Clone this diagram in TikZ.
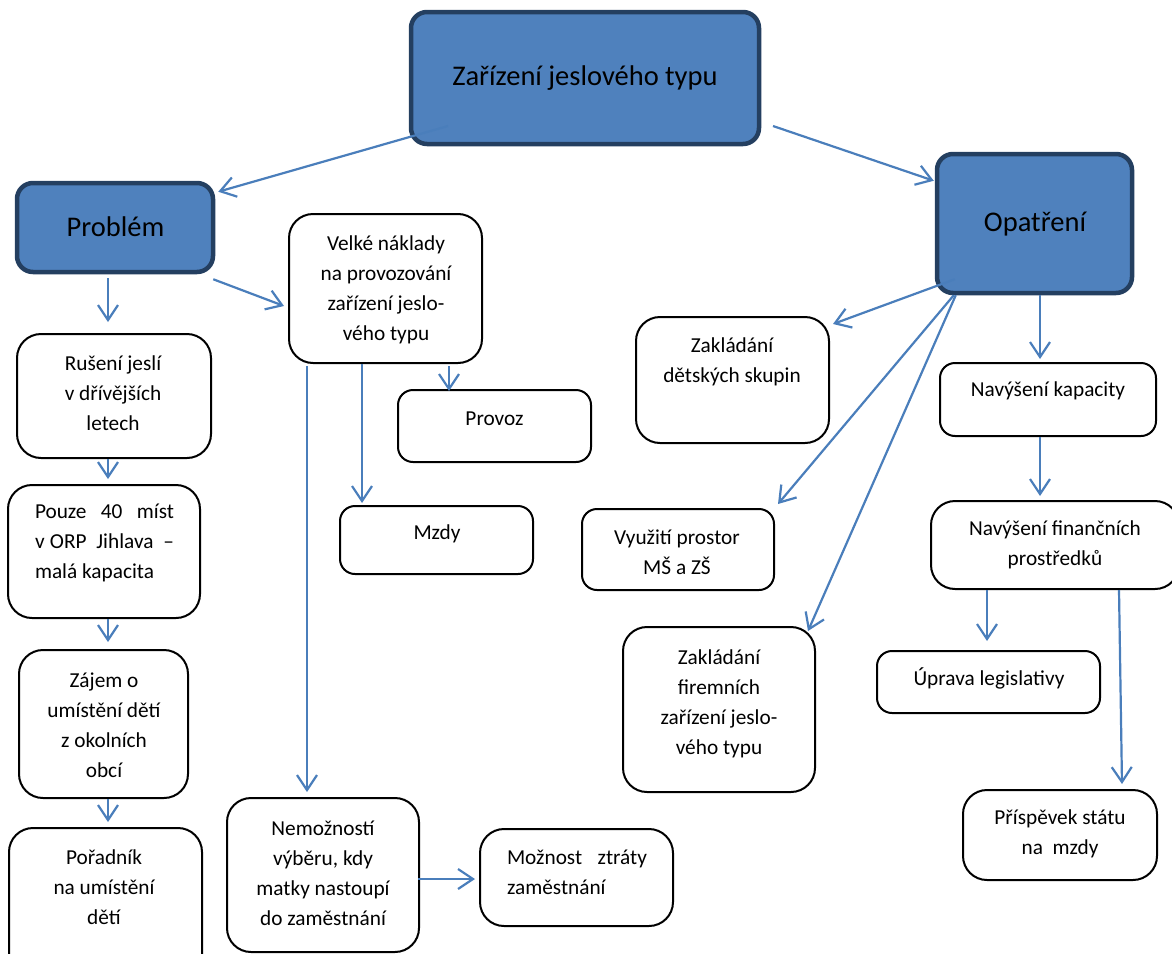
\documentclass[tikz,border=0pt]{standalone}
\usepackage{fontspec}
\setmainfont{Carlito}
\usetikzlibrary{arrows.meta, fit, calc}

\definecolor{fillblue}{HTML}{4F81BD}
\definecolor{edgeblue}{HTML}{243F60}
\definecolor{linkblue}{HTML}{4A7EBB}

\tikzset{
	head/.style={draw=edgeblue, line width=4.5pt, fill=fillblue, rounded corners=16pt, inner sep=0pt},
	box/.style={draw=black, line width=2pt, fill=white, rounded corners=24pt, inner sep=0pt},
	flat/.style={box, rounded corners=15pt},
	txt/.style={inner sep=0pt, align=center, font=\fontsize{21.3}{30}\selectfont},
	big/.style={inner sep=0pt, font=\fontsize{28.5}{34}\selectfont},
	link/.style={draw=linkblue, line width=2.2pt, -{Straight Barb[length=15pt,width=20pt]}}
}

\begin{document}
\begin{tikzpicture}[x=1pt, y=-1pt]
		\useasboundingbox (0,0) rectangle (1172,953);
		\node[head, fit={(411,12) (759,144)}](zar) {};
		\node[head, fit={(17,183) (213,272)}](prob) {};
		\node[head, fit={(937,154) (1132,293)}](opat) {};
		\node[box, fit={(289,214) (482,363)}](naklady) {};
		\node[box, fit={(17,334) (211,458)}](ruseni) {};
		\node[box, fit={(8,485) (200,618)}](pouze) {};
		\node[box, fit={(19,650) (188,798)}](zajem) {};
		\node[box, fit={(9,828) (202,990)}](poradnik) {};
		\node[flat, fit={(398,390) (591,462)}](provoz) {};
		\node[flat, fit={(340,506) (533,574)}](mzdy) {};
		\node[box, fit={(227,798) (419,952)}](nemoz) {};
		\node[box, fit={(480,829) (673,926)}](ztrata) {};
		\node[box, fit={(636,317) (829,443)}](skupiny) {};
		\node[flat, fit={(940,363) (1156,436)}](kapacita) {};
		\node[flat, fit={(582,509) (774,590)}](prostor) {};
		\node[box, fit={(931,501) (1179,589)}](financni) {};
		\node[box, fit={(623,627) (815,792)}](firemni) {};
		\node[flat, fit={(877,651) (1100,713)}](legisl) {};
		\node[box, fit={(963,790) (1157,880)}](prispevek) {};

		\node[big](zar-t) at (585,78) {Zařízení jeslového typu};
		\node[big](prob-t) at (115.5,227) {Problém};
		\node[big](opat-t) at (1035,224) {Opatření};
		\node[txt](naklady-t) at (386,290) {Velké náklady\\na provozování\\zařízení jeslo-\\vého typu};
		\node[txt](ruseni-t) at (113,393) {Rušení jeslí\\v dřívějších\\letech};
		\node[txt, align=left](pouze-t) at (104.5,543) {\makebox[139pt][s]{Pouze 40 míst}\\\makebox[139pt][s]{v\hspace{0.25em}ORP Jihlava –}\\\makebox[139pt][l]{malá kapacita}};
		\node[txt](zajem-t) at (104,725) {Zájem o\\umístění dětí\\z okolních\\obcí};
		\node[txt](poradnik-t) at (104,887) {Pořadník\\na umístění\\dětí};
		\node[txt](provoz-t) at (494.5,419) {Provoz};
		\node[txt](mzdy-t) at (437,534) {Mzdy};
		\node[txt](nemoz-t) at (323,873) {Nemožností\\výběru, kdy\\matky nastoupí\\do zaměstnání};
		\node[txt, align=left](ztrata-t) at (577,872) {\makebox[140pt][s]{Možnost ztráty}\\\makebox[140pt][l]{zaměstnání}};
		\node[txt](skupiny-t) at (732,362) {Zakládání\\dětských skupin};
		\node[txt](kapacita-t) at (1048,391) {Navýšení kapacity};
		\node[txt](prostor-t) at (677,552) {Využití prostor\\MŠ a ZŠ};
		\node[txt](financni-t) at (1055,545) {Navýšení finančních\\prostředků};
		\node[txt](firemni-t) at (719,704) {Zakládání\\firemních\\zařízení jeslo-\\vého typu};
		\node[txt](legisl-t) at (989,678) {Úprava legislativy};
		\node[txt](prispevek-t) at (1060,834) {Příspěvek státu\\na\ \ mzdy};

		\draw[link] ($(zar.center)+(-137,48)$) -- ($(prob.north east)+(3,11)$);
		\draw[link] ($(zar.center)+(188,48)$) -- ($(opat.north west)+(-1,29)$);
		\draw[link] ($(prob.south)+(-7,4)$) -- ($(ruseni.north)+(-6,-11)$);
		\draw[link] ($(prob.south east)+(-2,5)$) -- ($(naklady.west)+(-4,17.5)$);
		\draw[link] ($(ruseni.south)+(-6,0)$) -- ($(pouze.north)+(4,-5)$);
		\draw[link] ($(pouze.south)+(4,0)$) -- ($(zajem.north)+(4.5,-7)$);
		\draw[link] ($(zajem.south)+(4.5,0)$) -- ($(poradnik.north)+(2.5,-5)$);
		\draw[link] ($(naklady.south)+(63.5,2)$) -- ($(provoz.north)+(-45.5,2)$);
		\draw[link] ($(naklady.south)+(-23.5,0)$) -- ($(mzdy.north)+(-74.5,-2)$);
		\draw[link] ($(naklady.south)+(-78.5,2)$) -- ($(nemoz.north)+(-16,-5)$);
		\draw[link] ($(nemoz.east)+(-2,4)$) -- ($(ztrata.west)+(-4,1.5)$);
		\draw[link] ($(opat.south west)+(20,-16)$) -- ($(skupiny.north east)+(3,8)$);
		\draw[link] ($(opat.south west)+(19,0)$) -- ($(prostor.north east)+(3,-4)$);
		\draw[link] ($(opat.south west)+(21,0)$) -- ($(firemni.north east)+(-8,5)$);
		\draw[link] ($(opat.south)+(5.5,0)$) -- ($(kapacita.north)+(-8,-3)$);
		\draw[link] ($(kapacita.south)+(-8,0)$) -- ($(financni.north)+(-15,-4)$);
		\draw[link] ($(financni.south)+(-68,0)$) -- ($(legisl.north)+(-1.5,-9)$);
		\draw[link] ($(financni.south)+(64,0)$) -- ($(prispevek.north)+(62,-5)$);
\end{tikzpicture}
\end{document}
